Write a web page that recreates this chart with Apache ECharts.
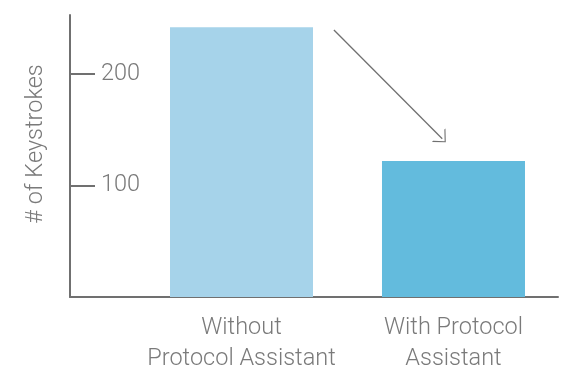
<!DOCTYPE html>
<html><head><meta charset="utf-8">
<script src="https://cdn.jsdelivr.net/npm/echarts@6/dist/echarts.min.js"></script>
<style>html,body{margin:0;padding:0;background:#fff}#c{width:564px;height:367px}</style>
</head><body><div id="c"></div>
<script>
const categories = ['Without\nProtocol Assistant', 'With Protocol\nAssistant'];
const keystrokes = [242, 122];
const barColors = ['#a6d3ea', '#63bbdd'];
const yTicks = [100, 200];
const axisName = '# of Keystrokes';
const arrowFrom = [0.436, 239.5];
const arrowTo = [0.947, 142];

const FONT = 'Roboto';
const chart = echarts.init(document.getElementById('c'), null, {renderer: 'canvas'});
chart.setOption({
  animation: false,
  grid: {left: 70, right: 6, top: 15, bottom: 70, containLabel: false, outerBoundsMode: 'none'},
  xAxis: {
    type: 'value', min: -0.809, max: 1.493,
    splitLine: {show: false},
    axisTick: {show: false},
    axisLine: {show: true, onZero: false, lineStyle: {color: '#707070', width: 2}},
    axisLabel: {
      customValues: categories.map((c, i) => i),
      formatter: v => categories[Math.round(v)] || '',
      color: '#7a7a7a', fontSize: 23.5, fontFamily: FONT, fontWeight: 300,
      lineHeight: 31, margin: 16
    }
  },
  yAxis: {
    type: 'value', min: 0, max: 253,
    name: axisName, nameLocation: 'middle', nameGap: 22, nameRotate: 90,
    nameTextStyle: {color: '#7a7a7a', fontSize: 23.5, fontFamily: FONT, fontWeight: 300, padding: [0, 0, 0, 24]},
    splitLine: {show: false},
    axisLine: {show: true, onZero: false, lineStyle: {color: '#707070', width: 2}},
    axisTick: {show: true, inside: true, length: 25, customValues: yTicks, lineStyle: {color: '#707070', width: 2}},
    axisLabel: {inside: true, margin: 31, customValues: yTicks, color: '#7a7a7a', fontSize: 23.5, fontFamily: FONT, fontWeight: 300}
  },
  series: [{
    type: 'bar', barWidth: 143,
    data: keystrokes.map((v, i) => ({value: [i, v], itemStyle: {color: barColors[i]}})),
    markLine: {
      silent: true, animation: false,
      symbol: ['none', 'path://M0,10 L10,0 L20,10 L18.4,10 L10,1.6 L1.6,10 Z'],
      symbolSize: [19, 10],
      label: {show: false},
      lineStyle: {color: '#707070', width: 1.3, type: 'solid'},
      data: [[{coord: arrowFrom}, {coord: arrowTo}]]
    }
  }]
});
</script></body></html>
